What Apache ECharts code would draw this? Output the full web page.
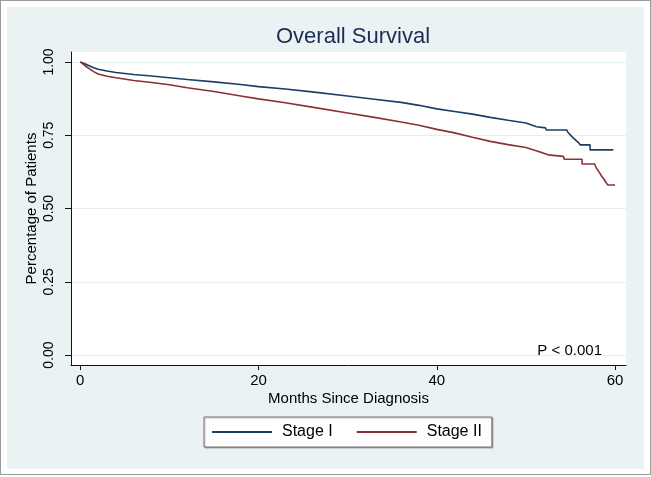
<!DOCTYPE html>
<html>
<head>
<meta charset="utf-8">
<script src="https://cdn.jsdelivr.net/npm/echarts@6/dist/echarts.min.js"></script>
<style>
  html, body { margin: 0; padding: 0; background: #fff; }
  #wrap { position: relative; width: 651px; height: 477px; overflow: hidden; }
  #frame { position: absolute; left: 0; top: 0; width: 649px; height: 473px; border: 1px solid #9a9a9a; }
  #panel { position: absolute; left: 7px; top: 7px; width: 637px; height: 462px; background: #eaf2f3; }
  #chart { position: absolute; left: 0; top: 0; width: 651px; height: 477px; }
</style>
</head>
<body>
<div id="wrap">
  <div id="frame"></div>
  <div id="panel"></div>
  <div id="chart"></div>
</div>
<script>
// ---- Data ----
var chartTitle = 'Overall Survival';
var xAxisTitle = 'Months Since Diagnosis';
var yAxisTitle = 'Percentage of Patients';
var xTicks = [0, 20, 40, 60];
var yTicks = [0, 0.25, 0.5, 0.75, 1];
var seriesNames = ['Stage I', 'Stage II'];
var pValueText = 'P < 0.001';

var monthsStage1 = [0, 0.5, 1, 1.5, 2, 3, 4, 6, 8, 10, 12, 15, 18, 20, 23, 26, 30, 33, 36, 38, 40, 42, 44, 46, 48, 50, 51.2, 52.2, 52.3, 54.6, 54.7, 55.3, 55.9, 56.1, 57.2, 57.2, 59.8];
var survStage1  = [1.000, 0.994, 0.987, 0.980, 0.975, 0.969, 0.964, 0.957, 0.952, 0.946, 0.940, 0.932, 0.923, 0.916, 0.908, 0.898, 0.884, 0.873, 0.862, 0.852, 0.840, 0.831, 0.822, 0.811, 0.801, 0.792, 0.779, 0.775, 0.768, 0.768, 0.760, 0.741, 0.725, 0.717, 0.717, 0.700, 0.700];

var monthsStage2 = [0, 0.5, 1, 1.5, 2, 3, 4, 6, 8, 10, 12, 15, 18, 20, 23, 26, 30, 33, 36, 38, 40, 42, 44, 46, 48, 50, 51.5, 52.5, 54.2, 54.3, 56.3, 56.3, 57.7, 57.9, 58.2, 58.5, 58.8, 59.0, 59.2, 60.0];
var survStage2  = [1.000, 0.988, 0.977, 0.967, 0.959, 0.951, 0.946, 0.937, 0.930, 0.922, 0.912, 0.899, 0.884, 0.874, 0.861, 0.846, 0.826, 0.811, 0.795, 0.784, 0.770, 0.758, 0.743, 0.729, 0.718, 0.708, 0.694, 0.683, 0.678, 0.668, 0.668, 0.652, 0.652, 0.638, 0.625, 0.610, 0.598, 0.588, 0.580, 0.580];

function pairs(xs, ys) {
  var out = [];
  for (var i = 0; i < xs.length; i++) out.push([xs[i], ys[i]]);
  return out;
}

var FONT = '"Liberation Sans", Arial, Helvetica, sans-serif';
var chart = echarts.init(document.getElementById('chart'), null, { renderer: 'canvas' });

chart.setOption({
  backgroundColor: 'transparent',
  animation: false,
  title: {
    text: chartTitle,
    left: 348, textAlign: 'center',
    top: 21,
    textStyle: { color: '#1c2c55', fontSize: 22, fontWeight: 'normal', fontFamily: FONT }
  },
  grid: {
    left: 71, right: 25, top: 52, bottom: 112,
    show: true, backgroundColor: '#ffffff', borderWidth: 0
  },
  xAxis: {
    type: 'value',
    min: -1.04, max: 61.23,
    name: xAxisTitle,
    nameLocation: 'middle',
    nameGap: 26,
    nameMoveOverlap: false,
    nameTextStyle: { color: '#000', fontSize: 15, fontFamily: FONT },
    axisLine: { show: true, onZero: false, lineStyle: { color: '#111', width: 1 } },
    axisTick: { show: true, length: 5, customValues: xTicks, lineStyle: { color: '#111' } },
    axisLabel: { customValues: xTicks, color: '#000', fontSize: 15, fontFamily: FONT, margin: 8 },
    splitLine: { show: false }
  },
  yAxis: {
    type: 'value',
    min: -0.034, max: 1.034,
    name: yAxisTitle,
    nameLocation: 'middle',
    nameRotate: 90,
    nameGap: 32,
    nameMoveOverlap: false,
    nameTextStyle: { color: '#000', fontSize: 15, fontFamily: FONT },
    axisLine: { show: true, onZero: false, lineStyle: { color: '#111', width: 1 } },
    axisTick: { show: true, length: 6, customValues: yTicks, lineStyle: { color: '#111' } },
    axisLabel: {
      customValues: yTicks, rotate: 90, color: '#000', fontSize: 14, fontFamily: FONT, margin: 15,
      formatter: function (v) { return v.toFixed(2); }
    },
    splitLine: { show: true, lineStyle: { color: '#e6eef0', width: 1 } }
  },
  legend: {
    data: seriesNames,
    icon: 'rect',
    left: 204, top: 417,
    padding: [7, 10, 7, 8],
    itemWidth: 60, itemHeight: 2, itemGap: 24,
    backgroundColor: '#ffffff',
    borderColor: '#6e6e6e', borderWidth: 1, borderRadius: 0,
    textStyle: { color: '#000', fontSize: 16, fontFamily: FONT, lineHeight: 16, padding: [0, 0, 0, 5] },
    shadowColor: 'rgba(0,0,0,0.25)', shadowOffsetX: 1, shadowOffsetY: 1, shadowBlur: 1
  },
  graphic: [{
    type: 'text',
    right: 651 - 602,
    top: 343,
    style: { text: pValueText, fill: '#000', font: '15px ' + FONT }
  }],
  series: [{
    name: seriesNames[0],
    type: 'line',
    data: pairs(monthsStage1, survStage1),
    symbol: 'none',
    lineStyle: { color: '#1a3f66', width: 1.6 },
    itemStyle: { color: '#1a3f66' }
  }, {
    name: seriesNames[1],
    type: 'line',
    data: pairs(monthsStage2, survStage2),
    symbol: 'none',
    lineStyle: { color: '#8b3036', width: 1.6 },
    itemStyle: { color: '#8b3036' }
  }]
});
</script>
</body>
</html>
